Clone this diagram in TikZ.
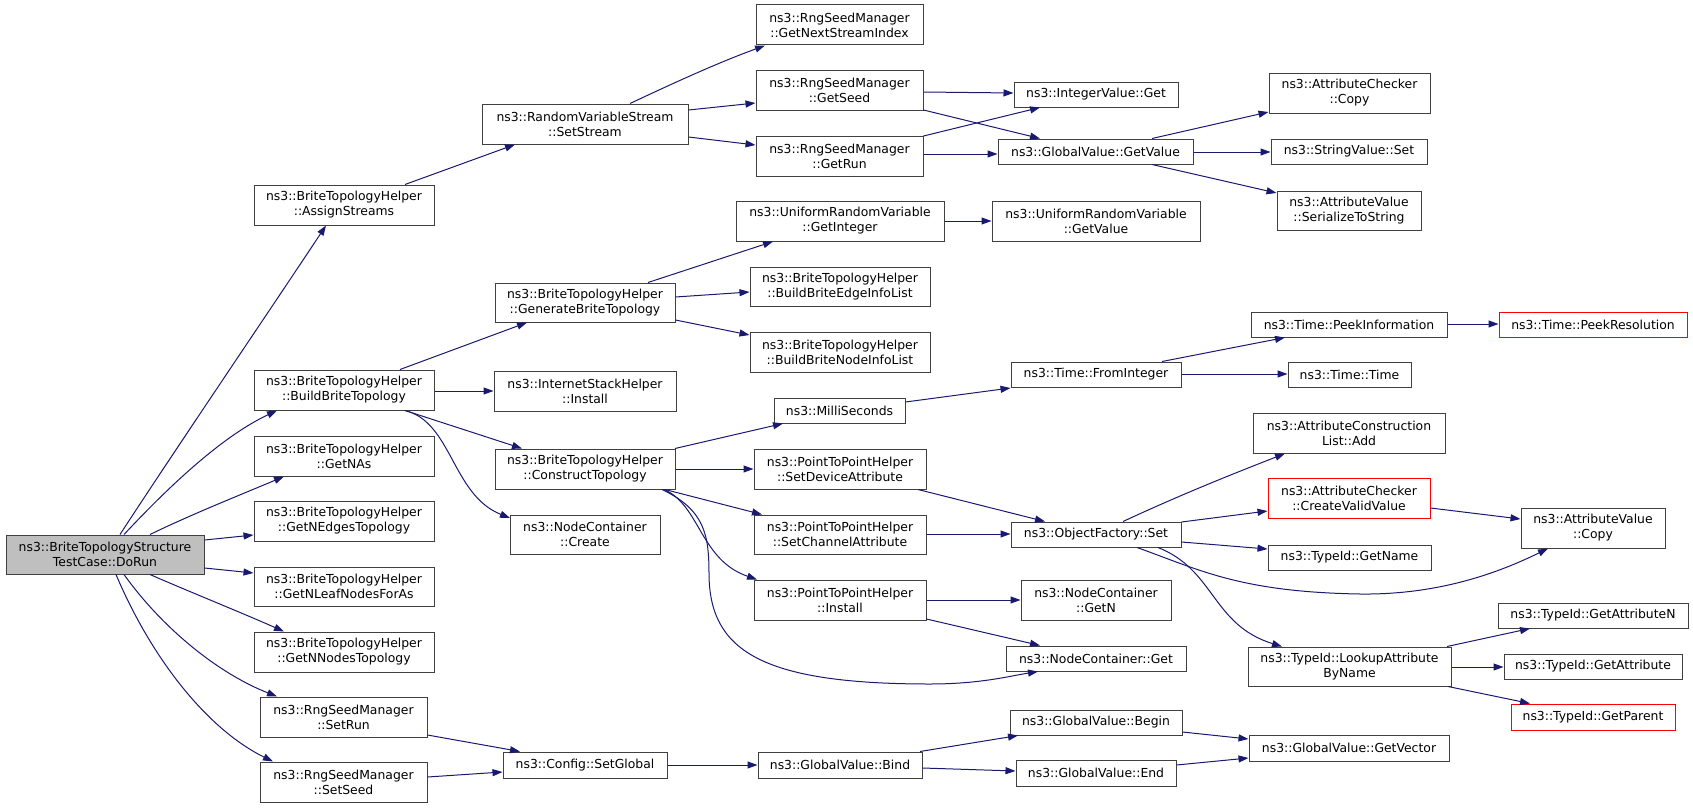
\documentclass[tikz,border=0pt]{standalone}
\usepackage{fontspec}
\setmainfont{DejaVu Sans}
\usetikzlibrary{arrows.meta}
\definecolor{edgeblue}{HTML}{191970}
\definecolor{boxline}{HTML}{404040}
\definecolor{rootfill}{HTML}{BFBFBF}
\tikzset{
  box/.style={draw=boxline, line width=1pt, fill=white, inner sep=0pt, align=center,
    font=\fontsize{12.4}{15}\selectfont},
  redbox/.style={draw=red},
  rootbox/.style={fill=rootfill},
  edge/.style={draw=edgeblue, line width=1pt, -{Triangle[length=10pt,width=7pt]}, fill=none},
}
\newcommand\mkbox[7][]{\node[box,#1,minimum width={#5-#3},minimum height={#6-#4}] (#2) at ({(#3+#5)/2},{(#4+#6)/2}) {#7};}
\begin{document}
\begin{tikzpicture}[x=1pt,y=-1pt]
\useasboundingbox (0,0) rectangle (1693,808);
% column 0
\mkbox[rootbox]{DoRun}{6}{535}{204}{574}{ns3::BriteTopologyStructure\\TestCase::DoRun}
% column 1
\mkbox{AS}{254}{185}{434}{225}{ns3::BriteTopologyHelper\\::AssignStreams}
\mkbox{BBT}{254}{370}{434}{410}{ns3::BriteTopologyHelper\\::BuildBriteTopology}
\mkbox{GNA}{254}{436}{434}{476}{ns3::BriteTopologyHelper\\::GetNAs}
\mkbox{GNE}{254}{501}{434}{541}{ns3::BriteTopologyHelper\\::GetNEdgesTopology}
\mkbox{GNL}{254}{567}{434}{606}{ns3::BriteTopologyHelper\\::GetNLeafNodesForAs}
\mkbox{GNN}{254}{632}{434}{672}{ns3::BriteTopologyHelper\\::GetNNodesTopology}
\mkbox{SR}{260}{697}{427}{737}{ns3::RngSeedManager\\::SetRun}
\mkbox{SS}{260}{762}{427}{802}{ns3::RngSeedManager\\::SetSeed}
% column 2
\mkbox{RVS}{482}{104}{688}{144}{ns3::RandomVariableStream\\::SetStream}
\mkbox{GBT}{495}{283}{675}{322}{ns3::BriteTopologyHelper\\::GenerateBriteTopology}
\mkbox{ISH}{494}{371}{676}{411}{ns3::InternetStackHelper\\::Install}
\mkbox{CT}{495}{449}{675}{489}{ns3::BriteTopologyHelper\\::ConstructTopology}
\mkbox{NCC}{510}{515}{660}{554}{ns3::NodeContainer\\::Create}
\mkbox{CSG}{503}{752}{667}{778}{ns3::Config::SetGlobal}
% column 3
\mkbox{GNSI}{756}{5}{923}{45}{ns3::RngSeedManager\\::GetNextStreamIndex}
\mkbox{GS}{756}{70}{923}{110}{ns3::RngSeedManager\\::GetSeed}
\mkbox{GR}{756}{136}{923}{176}{ns3::RngSeedManager\\::GetRun}
\mkbox{URGI}{736}{201}{944}{241}{ns3::UniformRandomVariable\\::GetInteger}
\mkbox{BEIL}{750}{267}{930}{306}{ns3::BriteTopologyHelper\\::BuildBriteEdgeInfoList}
\mkbox{BNIL}{750}{332}{930}{372}{ns3::BriteTopologyHelper\\::BuildBriteNodeInfoList}
\mkbox{MS}{774}{398}{905}{423}{ns3::MilliSeconds}
\mkbox{SDA}{754}{449}{926}{489}{ns3::PointToPointHelper\\::SetDeviceAttribute}
\mkbox{SCA}{754}{515}{926}{554}{ns3::PointToPointHelper\\::SetChannelAttribute}
\mkbox{PPI}{754}{580}{926}{620}{ns3::PointToPointHelper\\::Install}
\mkbox{GVB}{758}{752}{922}{778}{ns3::GlobalValue::Bind}
% column 4
\mkbox{IVG}{1014}{82}{1178}{107}{ns3::IntegerValue::Get}
\mkbox{GVGV}{998}{139}{1193}{164}{ns3::GlobalValue::GetValue}
\mkbox{URGV}{992}{201}{1200}{241}{ns3::UniformRandomVariable\\::GetValue}
\mkbox{FI}{1011}{362}{1181}{387}{ns3::Time::FromInteger}
\mkbox{OFS}{1011}{522}{1181}{547}{ns3::ObjectFactory::Set}
\mkbox{NCN}{1021}{580}{1171}{620}{ns3::NodeContainer\\::GetN}
\mkbox{NCG}{1006}{646}{1186}{671}{ns3::NodeContainer::Get}
\mkbox{GVBeg}{1010}{710}{1182}{735}{ns3::GlobalValue::Begin}
\mkbox{GVE}{1016}{760}{1176}{786}{ns3::GlobalValue::End}
% column 5
\mkbox{ACC}{1269}{73}{1430}{113}{ns3::AttributeChecker\\::Copy}
\mkbox{SVS}{1271}{139}{1427}{164}{ns3::StringValue::Set}
\mkbox{AVS}{1277}{191}{1421}{230}{ns3::AttributeValue\\::SerializeToString}
\mkbox{PI}{1251}{312}{1447}{337}{ns3::Time::PeekInformation}
\mkbox{TT}{1288}{362}{1411}{387}{ns3::Time::Time}
\mkbox{ACLA}{1253}{413}{1445}{453}{ns3::AttributeConstruction\\List::Add}
\mkbox[redbox]{CVV}{1268}{478}{1430}{518}{ns3::AttributeChecker\\::CreateValidValue}
\mkbox{TGN}{1268}{545}{1431}{570}{ns3::TypeId::GetName}
\mkbox{LABN}{1248}{647}{1451}{686}{ns3::TypeId::LookupAttribute\\ByName}
\mkbox{GVV}{1249}{735}{1449}{761}{ns3::GlobalValue::GetVector}
% column 6
\mkbox[redbox]{PR}{1499}{312}{1687}{337}{ns3::Time::PeekResolution}
\mkbox{AVC}{1521}{508}{1665}{548}{ns3::AttributeValue\\::Copy}
\mkbox{GAN}{1498}{603}{1688}{628}{ns3::TypeId::GetAttributeN}
\mkbox{GA}{1504}{654}{1682}{679}{ns3::TypeId::GetAttribute}
\mkbox[redbox]{GP}{1511}{704}{1675}{730}{ns3::TypeId::GetParent}

% edges from DoRun
\draw[edge] (120,0 |- DoRun.north) .. controls (175,450) and (270,310) .. (326,0 |- AS.south);
\draw[edge] (124,0 |- DoRun.north) .. controls (175,480) and (225,435) .. (277,0 |- BBT.south);
\draw[edge] (150,0 |- DoRun.north) .. controls (190,515) and (240,495) .. (284,0 |- GNA.south);
\draw[edge] (DoRun.east |- 0,540) -- (GNE.west |- 0,535);
\draw[edge] (DoRun.east |- 0,568) -- (GNL.west |- 0,573);
\draw[edge] (150,0 |- DoRun.south) .. controls (190,592) and (240,612) .. (284,0 |- GNN.north);
\draw[edge] (124,0 |- DoRun.south) .. controls (160,625) and (215,672) .. (277,0 |- SR.north);
\draw[edge] (116,0 |- DoRun.south) .. controls (150,655) and (205,728) .. (273,0 |- SS.north);
% AssignStreams chain
\draw[edge] (405,0 |- AS.north) -- (515,0 |- RVS.south);
\draw[edge] (630,0 |- RVS.north) .. controls (680,80) and (720,62) .. (765,0 |- GNSI.south);
\draw[edge] (RVS.east |- 0,110) -- (GS.west |- 0,103);
\draw[edge] (RVS.east |- 0,137) -- (GR.west |- 0,145);
\draw[edge] (GS.east |- 0,92) -- (IVG.west |- 0,93);
\draw[edge] (GS.east |- 0,110) -- (1040,0 |- GVGV.north);
\draw[edge] (GR.east |- 0,136) -- (1040,0 |- IVG.south);
\draw[edge] (GR.east |- 0,154) -- (GVGV.west |- 0,154);
\draw[edge] (1152,0 |- GVGV.north) -- (ACC.west |- 0,112);
\draw[edge] (GVGV.east |- 0,152) -- (SVS.west |- 0,152);
\draw[edge] (1152,0 |- GVGV.south) -- (AVS.west |- 0,193);
% BuildBriteTopology chain
\draw[edge] (400,0 |- BBT.north) -- (527,0 |- GBT.south);
\draw[edge] (BBT.east |- 0,391) -- (ISH.west |- 0,391);
\draw[edge] (405,0 |- BBT.south) -- (522,0 |- CT.north);
\draw[edge] (405,0 |- BBT.south) .. controls (452,422) and (452,495) .. (510,518);
\draw[edge] (648,0 |- GBT.north) -- (773,0 |- URGI.south);
\draw[edge] (GBT.east |- 0,297) -- (BEIL.west |- 0,292);
\draw[edge] (GBT.east |- 0,320) -- (BNIL.west |- 0,335);
\draw[edge] (URGI.east |- 0,221) -- (URGV.west |- 0,221);
% ConstructTopology chain
\draw[edge] (675,0 |- CT.north) -- (783,0 |- MS.south);
\draw[edge] (CT.east |- 0,469) -- (SDA.west |- 0,469);
\draw[edge] (665,0 |- CT.south) -- (762,0 |- SCA.north);
\draw[edge] (664,0 |- CT.south) .. controls (700,505) and (700,560) .. (757,0 |- PPI.north);
\draw[edge] (662,0 |- CT.south) .. controls (705,510) and (709,535) .. (709,575)
  .. controls (710,650) and (760,684) .. (930,684) .. controls (980,684) and (1010,676) .. (1038,0 |- NCG.south);
\draw[edge] (MS.east |- 0,402) -- (FI.west |- 0,388);
\draw[edge] (1162,0 |- FI.north) -- (1285,0 |- PI.south);
\draw[edge] (FI.east |- 0,374) -- (TT.west |- 0,374);
\draw[edge] (PI.east |- 0,324) -- (PR.west |- 0,324);
\draw[edge] (918,0 |- SDA.south) -- (1045,0 |- OFS.north);
\draw[edge] (SCA.east |- 0,534) -- (OFS.west |- 0,534);
\draw[edge] (1123,0 |- OFS.north) .. controls (1180,495) and (1230,475) .. (1285,0 |- ACLA.south);
\draw[edge] (OFS.east |- 0,522) -- (CVV.west |- 0,511);
\draw[edge] (OFS.east |- 0,542) -- (TGN.west |- 0,549);
\draw[edge] (1137,0 |- OFS.south) .. controls (1200,570) and (1240,592) .. (1360,594)
  .. controls (1440,595) and (1500,572) .. (1548,0 |- AVC.south);
\draw[edge] (1158,0 |- OFS.south) .. controls (1215,570) and (1212,625) .. (1282,0 |- LABN.north);
\draw[edge] (CVV.east |- 0,508) -- (AVC.west |- 0,519);
\draw[edge] (PPI.east |- 0,600) -- (NCN.west |- 0,600);
\draw[edge] (PPI.east |- 0,619) -- (1040,0 |- NCG.north);
\draw[edge] (1447,0 |- LABN.north) -- (1530,0 |- GAN.south);
\draw[edge] (LABN.east |- 0,667) -- (GA.west |- 0,667);
\draw[edge] (1448,0 |- LABN.south) -- (1530,0 |- GP.north);
% SetGlobal chain
\draw[edge] (SR.east |- 0,735) -- (520,0 |- CSG.north);
\draw[edge] (SS.east |- 0,777) -- (CSG.west |- 0,772);
\draw[edge] (CSG.east |- 0,765) -- (GVB.west |- 0,765);
\draw[edge] (920,0 |- GVB.north) -- (1018,0 |- GVBeg.south);
\draw[edge] (GVB.east |- 0,768) -- (GVE.west |- 0,771);
\draw[edge] (GVBeg.east |- 0,732) -- (GVV.west |- 0,739);
\draw[edge] (GVE.east |- 0,765) -- (GVV.west |- 0,758);
\end{tikzpicture}
\end{document}
